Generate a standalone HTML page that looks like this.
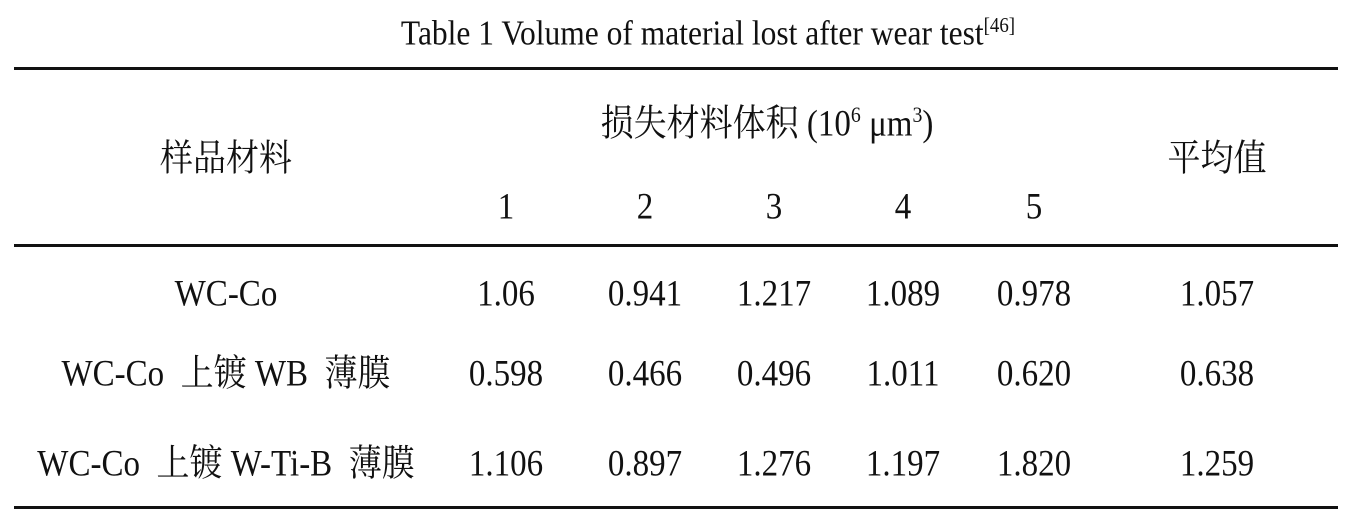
<!DOCTYPE html>
<html><head><meta charset="utf-8"><style>
body{margin:0;width:1359px;height:517px;background:#fff;position:relative;overflow:hidden;font-family:"Liberation Serif","Noto Serif CJK SC",serif;color:#111}
.t{position:absolute;transform:translate(-50%,-50%) scaleY(1.12);white-space:nowrap;font-size:33px;line-height:1}
.l{position:absolute;left:14px;width:1324px;height:3px;background:#111}
sup{font-size:60%;vertical-align:0;position:relative;top:-0.6em}
</style></head><body>
<div class="t" style="left:708px;top:33px;font-size:31.5px">Table 1 Volume of material lost after wear test<sup>[46]</sup></div>
<div class="l" style="top:67px"></div>
<div class="l" style="top:244px"></div>
<div class="l" style="top:506px"></div>
<div class="t" style="left:226px;top:160px">样品材料</div>
<div class="t" style="left:767px;top:125px">损失材料体积 (10<sup>6</sup> μm<sup>3</sup>)</div>
<div class="t" style="left:1217px;top:160px">平均值</div>
<div class="t" style="left:506px;top:208px">1</div>
<div class="t" style="left:645px;top:208px">2</div>
<div class="t" style="left:774px;top:208px">3</div>
<div class="t" style="left:903px;top:208px">4</div>
<div class="t" style="left:1034px;top:208px">5</div>

<div class="t" style="left:226px;top:295px">WC-Co</div>
<div class="t" style="left:506px;top:295px">1.06</div>
<div class="t" style="left:645px;top:295px">0.941</div>
<div class="t" style="left:774px;top:295px">1.217</div>
<div class="t" style="left:903px;top:295px">1.089</div>
<div class="t" style="left:1034px;top:295px">0.978</div>
<div class="t" style="left:1217px;top:295px">1.057</div>

<div class="t" style="left:226px;top:375px">WC-Co&nbsp; 上镀 WB&nbsp; 薄膜</div>
<div class="t" style="left:506px;top:375px">0.598</div>
<div class="t" style="left:645px;top:375px">0.466</div>
<div class="t" style="left:774px;top:375px">0.496</div>
<div class="t" style="left:903px;top:375px">1.011</div>
<div class="t" style="left:1034px;top:375px">0.620</div>
<div class="t" style="left:1217px;top:375px">0.638</div>

<div class="t" style="left:226px;top:465px">WC-Co&nbsp; 上镀 W-Ti-B&nbsp; 薄膜</div>
<div class="t" style="left:506px;top:465px">1.106</div>
<div class="t" style="left:645px;top:465px">0.897</div>
<div class="t" style="left:774px;top:465px">1.276</div>
<div class="t" style="left:903px;top:465px">1.197</div>
<div class="t" style="left:1034px;top:465px">1.820</div>
<div class="t" style="left:1217px;top:465px">1.259</div>
</body></html>
